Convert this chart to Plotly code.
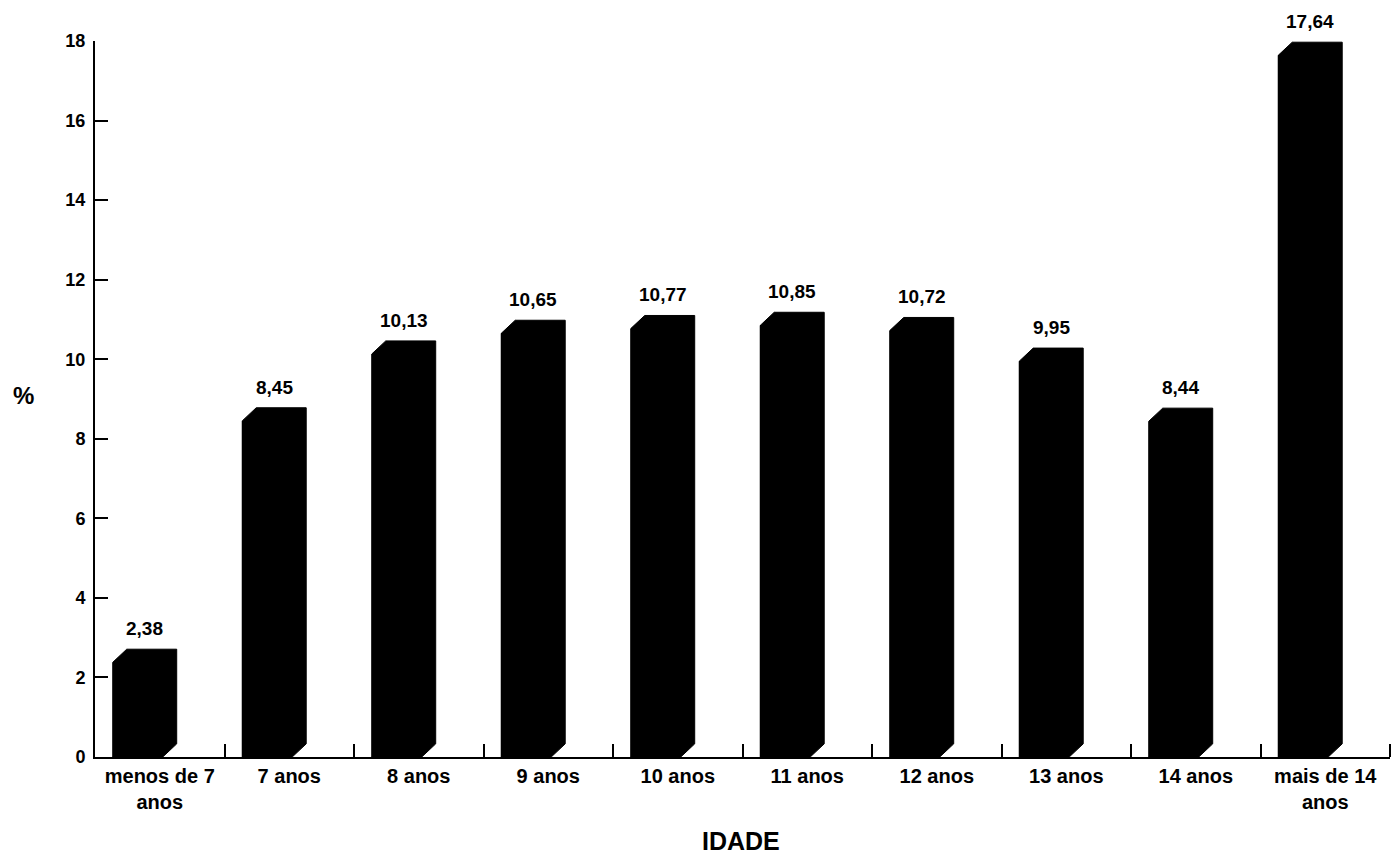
import plotly.graph_objects as go

categories = ["menos de 7<br>anos", "7 anos", "8 anos", "9 anos", "10 anos",
              "11 anos", "12 anos", "13 anos", "14 anos", "mais de 14<br>anos"]
values = [2.38, 8.45, 10.13, 10.65, 10.77, 10.85, 10.72, 9.95, 8.44, 17.64]
value_labels = ["2,38", "8,45", "10,13", "10,65", "10,77", "10,85", "10,72", "9,95", "8,44", "17,64"]
y_ticks = [0, 2, 4, 6, 8, 10, 12, 14, 16, 18]

# bar geometry (category units / y units)
FRONT_OFFSET = -0.363
FRONT_WIDTH = 0.386
DX = 0.108
DY = 0.33

FONT = "Liberation Sans, Arial, sans-serif"
xs = list(range(len(categories)))

fig = go.Figure()

# front faces
fig.add_trace(go.Bar(
    x=xs, y=values, width=FRONT_WIDTH, offset=FRONT_OFFSET,
    marker=dict(color="black", line=dict(width=0)),
    hoverinfo="skip", showlegend=False,
))

# full 3D outline (front + top + side) so there are no seams
px_, py_ = [], []
for i, v in zip(xs, values):
    x0 = i + FRONT_OFFSET
    x1 = x0 + FRONT_WIDTH
    px_ += [x0, x0, x0 + DX, x1 + DX, x1 + DX, x1, x0, None]
    py_ += [0, v, v + DY, v + DY, DY, 0, 0, None]
fig.add_trace(go.Scatter(
    x=px_, y=py_, mode="lines", fill="toself", fillcolor="black",
    line=dict(color="black", width=1), hoverinfo="skip", showlegend=False,
))

# value labels
for i, v, t in zip(xs, values, value_labels):
    fig.add_annotation(
        x=i + FRONT_OFFSET + (FRONT_WIDTH + DX) / 2, y=v + DY, text=t,
        showarrow=False, yanchor="bottom", yshift=8,
        font=dict(family=FONT, size=19, color="black", weight="bold"),
    )

fig.add_annotation(x=-0.055, y=0.505, xref="paper", yref="paper", text="%",
                   showarrow=False, xanchor="center", yanchor="middle",
                   font=dict(family=FONT, size=24, color="black", weight="bold"))
fig.add_annotation(x=0.499, y=-0.14, xref="paper", yref="paper", text="IDADE",
                   showarrow=False, xanchor="center", yanchor="bottom",
                   font=dict(family=FONT, size=25, color="black", weight="bold"))

fig.update_layout(
    width=1391, height=859,
    margin=dict(l=95, r=1, t=41, b=102),
    paper_bgcolor="white", plot_bgcolor="white",
    font=dict(family=FONT, color="black", size=18, weight="bold"),
    bargap=0,
)

fig.update_xaxes(
    range=[-0.5, 9.5], tickmode="array", tickvals=xs, ticktext=categories,
    ticks="", showgrid=False, zeroline=False,
    showline=True, linecolor="black", linewidth=2,
    tickfont=dict(family=FONT, size=20, color="black", weight="bold"),
    minor=dict(tickmode="array", tickvals=[i + 0.5 for i in xs], ticks="inside",
               ticklen=13, tickwidth=2, tickcolor="black", showgrid=False),
)
fig.update_yaxes(
    range=[0, 18], tickmode="array", tickvals=y_ticks,
    ticks="inside", ticklen=13, tickwidth=2, tickcolor="black",
    showgrid=False, zeroline=False,
    showline=True, linecolor="black", linewidth=2,
    tickfont=dict(family=FONT, size=18, color="black", weight="bold"),
    ticklabelstandoff=4,
)

fig.write_html(
    "out.html",
    config={"displayModeBar": False},
    post_script="document.body.style.margin='0';document.body.style.overflow='hidden';",
)
